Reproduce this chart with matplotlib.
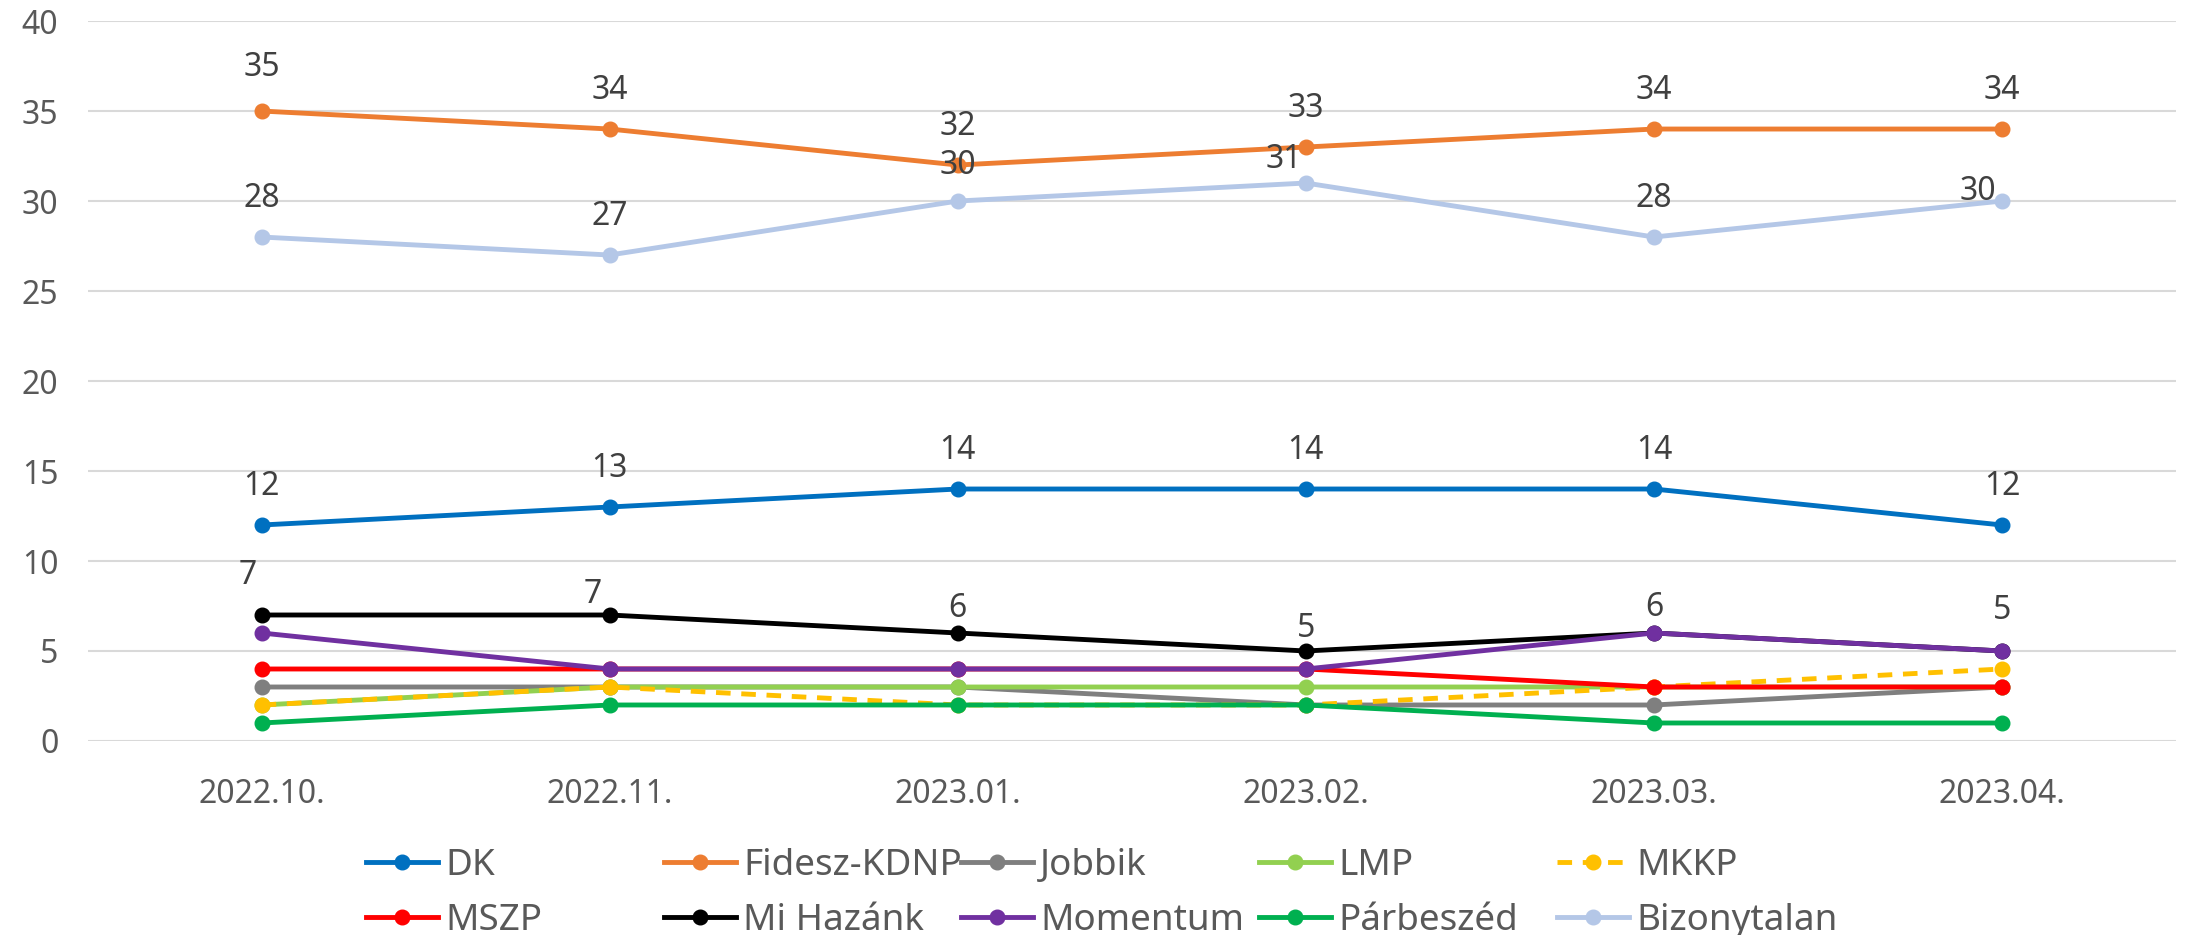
import numpy as np
import matplotlib
matplotlib.use("Agg")
import matplotlib.pyplot as plt

plt.rcParams["font.family"] = ["Noto Sans", "DejaVu Sans"]

months = ["2022.10.", "2022.11.", "2023.01.", "2023.02.", "2023.03.", "2023.04."]

dk = [12, 13, 14, 14, 14, 12]
fidesz = [35, 34, 32, 33, 34, 34]
jobbik = [3, 3, 3, 2, 2, 3]
lmp = [2, 3, 3, 3, 3, 3]
mkkp = [2, 3, 2, 2, 3, 4]
mszp = [4, 4, 4, 4, 3, 3]
mi_hazank = [7, 7, 6, 5, 6, 5]
momentum = [6, 4, 4, 4, 6, 5]
parbeszed = [1, 2, 2, 2, 1, 1]
bizonytalan = [28, 27, 30, 31, 28, 30]

series = [
    ("DK", dk, "#0070C0", "-"),
    ("Fidesz-KDNP", fidesz, "#ED7D31", "-"),
    ("Jobbik", jobbik, "#7F7F7F", "-"),
    ("LMP", lmp, "#92D050", "-"),
    ("MKKP", mkkp, "#FFC000", "--"),
    ("MSZP", mszp, "#FF0000", "-"),
    ("Mi Hazánk", mi_hazank, "#000000", "-"),
    ("Momentum", momentum, "#7030A0", "-"),
    ("Párbeszéd", parbeszed, "#00B050", "-"),
    ("Bizonytalan", bizonytalan, "#B4C7E7", "-"),
]

# series that get data labels
labelled = ["DK", "Fidesz-KDNP", "Mi Hazánk", "Bizonytalan"]
# label nudges (pixels) where the default "above" spot was moved
label_nudge = {
    ("Mi Hazánk", 0): (-14, 39),
    ("Mi Hazánk", 1): (-17, 20),
    ("Mi Hazánk", 2): (0, 24),
    ("Mi Hazánk", 3): (0, 22),
    ("Mi Hazánk", 4): (0, 25),
    ("Mi Hazánk", 5): (0, 40),
    ("Fidesz-KDNP", 0): (0, 44),
    ("Bizonytalan", 2): (0, 36),
    ("Bizonytalan", 3): (-22, 24),
    ("Bizonytalan", 5): (-24, 10),
}

fig = plt.figure(figsize=(21.9, 9.35), dpi=100)
ax = fig.add_axes([0.040, 0.2075, 0.9536, 0.77])

x = np.arange(len(months))
handles = []
for name, vals, col, ls in series:
    if ls == "--":
        h, = ax.plot(x, vals, color=col, lw=3.5, ls=(0, (3, 2.2)), marker="o",
                     ms=10.5, label=name)
    else:
        h, = ax.plot(x, vals, color=col, lw=3.5, marker="o", ms=10.5, label=name)
    handles.append(h)
    if name in labelled:
        for i, v in enumerate(vals):
            dx, dy = label_nudge.get((name, i), (0, 39))
            ax.annotate(str(v), (x[i], v), xytext=(dx, dy), textcoords="offset pixels",
                        ha="center", va="center", fontsize=23, color="#404040")

ax.set_xlim(-0.5, len(months) - 0.5)
ax.set_ylim(0, 40)
ax.set_yticks(range(0, 41, 5))
ax.set_xticks(x)
ax.set_xticklabels(months)
ax.grid(axis="y", color="#D9D9D9", lw=1.5)
ax.set_axisbelow(True)
for s in ax.spines.values():
    s.set_visible(False)
ax.tick_params(axis="both", length=0, labelsize=23, labelcolor="#595959")
ax.tick_params(axis="x", pad=27)
ax.tick_params(axis="y", pad=21)

# legend: five columns of two rows, placed column by column
col_x = [366, 664, 961, 1259, 1557]
for c in range(5):
    hs = [handles[c], handles[c + 5]]
    leg = fig.legend(handles=hs, labels=[h.get_label() for h in hs],
                     loc="upper left", bbox_to_anchor=(col_x[c] / 2190, 0.093),
                     frameon=False, fontsize=26.5, borderpad=0, borderaxespad=0,
                     handlelength=1.95, handletextpad=0.2, labelspacing=0.52)
    for t in leg.get_texts():
        t.set_color("#595959")

fig.savefig("out.png", dpi=100)
